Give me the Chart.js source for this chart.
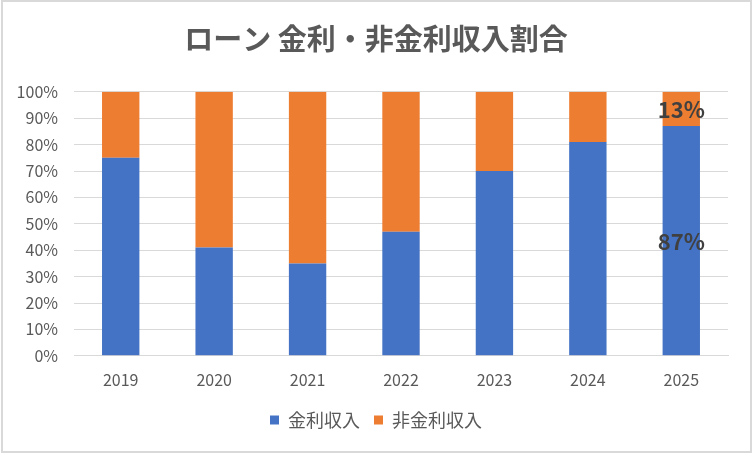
<!DOCTYPE html>
<html>
<head>
<meta charset="utf-8">
<script src="https://cdn.jsdelivr.net/npm/chart.js@4.4.0/dist/chart.umd.min.js"></script>
<style>
html,body{margin:0;padding:0;background:#fff;}
#wrap{width:752px;height:453px;position:relative;}
</style>
</head>
<body>
<div id="wrap"><canvas id="c" width="752" height="453"></canvas></div>
<script>
const categories = ['2019','2020','2021','2022','2023','2024','2025'];
const interestIncome = [75, 41, 35, 47, 70, 81, 87];
const nonInterestIncome = [25, 59, 65, 53, 30, 19, 13];
const interestLabels = ['', '', '', '', '', '', '87%'];
const nonInterestLabels = ['', '', '', '', '', '', '13%'];
const seriesNames = ['金利収入', '非金利収入'];
const chartTitle = 'ローン 金利・非金利収入割合';

const FONT = "'Noto Sans CJK JP', 'Noto Sans', sans-serif";

const bgPlugin = {
  id: 'bg',
  beforeDraw(chart) {
    const ctx = chart.ctx;
    ctx.save();
    ctx.fillStyle = '#ffffff';
    ctx.fillRect(0, 0, chart.width, chart.height);
    ctx.strokeStyle = '#d9d9d9';
    ctx.lineWidth = 2;
    ctx.strokeRect(2, 1, chart.width - 3, chart.height - 2);
    ctx.restore();
  }
};

const labelPlugin = {
  id: 'barLabels',
  afterDatasetsDraw(chart) {
    const ctx = chart.ctx;
    const lists = [interestLabels, nonInterestLabels];
    ctx.save();
    ctx.font = "bold 22px " + FONT;
    ctx.fillStyle = '#404040';
    ctx.textAlign = 'center';
    ctx.textBaseline = 'middle';
    chart.data.datasets.forEach((ds, di) => {
      const meta = chart.getDatasetMeta(di);
      meta.data.forEach((bar, i) => {
        const txt = lists[di][i];
        if (!txt) return;
        const p = bar.getProps(['x', 'y', 'base'], true);
        ctx.fillText(txt, p.x, (p.y + p.base) / 2 + 1);
      });
    });
    ctx.restore();
  }
};

new Chart(document.getElementById('c'), {
  type: 'bar',
  data: {
    labels: categories,
    datasets: [
      { label: seriesNames[0], data: interestIncome, backgroundColor: '#4472c4', barPercentage: 0.4, categoryPercentage: 1.0 },
      { label: seriesNames[1], data: nonInterestIncome, backgroundColor: '#ed7d31', barPercentage: 0.4, categoryPercentage: 1.0 }
    ]
  },
  options: {
    responsive: false,
    animation: false,
    devicePixelRatio: 1,
    layout: { padding: { left: 10, right: 10, top: 0, bottom: 14 } },
    plugins: {
      title: {
        display: true,
        text: chartTitle,
        color: '#595959',
        font: { family: FONT, size: 29, weight: 'bold' },
        padding: { top: 22, bottom: 35 }
      },
      legend: {
        position: 'bottom',
        labels: {
          color: '#595959',
          font: { family: FONT, size: 18 },
          boxWidth: 9,
          boxHeight: 9,
          padding: 14
        }
      },
      tooltip: { enabled: false }
    },
    scales: {
      x: {
        stacked: true,
        grid: { display: false },
        border: { color: '#d9d9d9' },
        ticks: { color: '#595959', font: { family: FONT, size: 16 }, padding: 7 }
      },
      y: {
        stacked: true,
        min: 0,
        max: 100,
        ticks: {
          stepSize: 10,
          color: '#595959',
          font: { family: FONT, size: 16 },
          padding: 16,
          callback: v => v + '%'
        },
        grid: { color: '#d9d9d9', drawTicks: false },
        border: { display: false },
        afterFit(scale) { scale.width = 64; }
      },
      yRight: {
        position: 'right',
        display: true,
        grid: { display: false, drawTicks: false },
        ticks: { display: false },
        border: { display: false },
        afterFit(scale) { scale.width = 14; }
      }
    }
  },
  plugins: [bgPlugin, labelPlugin]
});
</script>
</body>
</html>
